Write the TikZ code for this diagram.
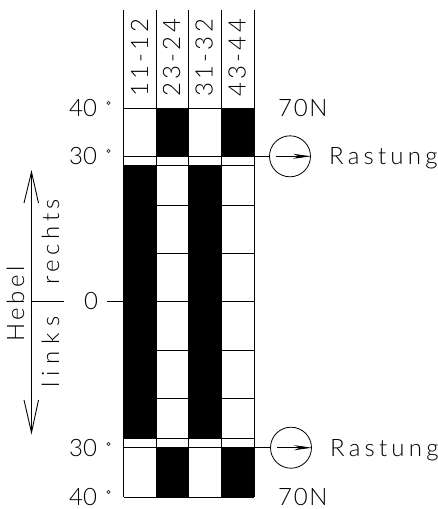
\documentclass[tikz,border=0pt]{standalone}
\usepackage{fontspec}
\setmainfont{Liberation Sans}
\newfontfamily\cadfont{Lato Light}
\newcommand\lsp[2]{{\addfontfeature{LetterSpace=#1}#2}}
\usetikzlibrary{arrows.meta}
\tikzset{
  grid/.style={line width=0.9pt,black},
  lbl/.style={font=\cadfont\fontsize{24}{24}\selectfont,inner sep=0pt,anchor=base west,text=black},
  vlbl/.style={lbl,rotate=90},
  detent/.style={circle,draw,line width=0.8pt,minimum size=41pt,inner sep=0pt},
  ptr/.style={line width=0.8pt,-{Stealth[length=18pt,width=5pt]}},
  barb/.style={line width=0.9pt}
}
\begin{document}
\begin{tikzpicture}[x=1pt,y=-1pt]
\useasboundingbox (0,0) rectangle (438,509);
% black bars
\fill[black] (156,108) rectangle (189,156.5);
\fill[black] (221,108) rectangle (254,156.5);
\fill[black] (123.5,165.5) rectangle (156.5,438.5);
\fill[black] (188,165.5) rectangle (221.5,438.5);
\fill[black] (156.5,447.5) rectangle (189,498);
\fill[black] (221.5,447.5) rectangle (254,498);
% verticals
\coordinate (t1) at (123.5,10); \coordinate (b1) at (123.5,497);
\coordinate (t2) at (156.3,10); \coordinate (b2) at (156.3,497);
\coordinate (t3) at (188.7,10); \coordinate (b3) at (188.7,497);
\coordinate (t4) at (221.3,10); \coordinate (b4) at (221.3,497);
\coordinate (t5) at (254,10);   \coordinate (b5) at (254,497);
\foreach \i in {1,...,5} \draw[grid] (t\i) -- (b\i);
% horizontals
\draw[grid] (123.5,108.3) -- (254,108.3);
\draw[grid] (123.5,165.7) -- (254,165.7);
\draw[grid] (123.5,438.5) -- (254,438.5);
\draw[grid] (123.5,497) -- (254,497);
\foreach \y in {205.3,253.7,350,398.5}{
  \draw[grid] (156.3,\y) -- (188.7,\y);
  \draw[grid] (221.3,\y) -- (254,\y);
}
% detents
\node[detent] (c1) at (290,156.3) {};
\node[detent] (c2) at (291,447.7) {};
\coordinate (l1) at (123.5,156.3);
\coordinate (l2) at (123.5,447.7);
\draw[grid] (l1) -- (c1.west);
\draw[grid] (l2) -- (c2.west);
\coordinate (a1s) at (276,156.3); \coordinate (a1e) at (311,156.3);
\coordinate (a2s) at (277,447.7); \coordinate (a2e) at (312,447.7);
\draw[ptr] (a1s) -- (a1e);
\draw[ptr] (a2s) -- (a2e);
% column labels
\node[vlbl] (h1) at (148,97) {\lsp{14}{11-12}};
\node[vlbl] (h2) at (180,97) {\lsp{14}{23-24}};
\node[vlbl] (h3) at (212.6,97) {\lsp{14}{31-32}};
\node[vlbl] (h4) at (245.6,97) {\lsp{14}{43-44}};
% angle labels
\node[lbl] (a40t) at (69,116) {40};
\node[lbl] (a30t) at (69,164) {30};
\node[lbl] (zero) at (84,309) {0};
\node[lbl] (a30b) at (69,456) {30};
\node[lbl] (a40b) at (69,505) {40};
\foreach \x/\y in {108.5/103,108.5/151,108.5/444,108.5/492}
  \draw[line width=0.7pt,black!80] (\x,\y) circle (1.6);
\coordinate (z0) at (107,301.5);
\coordinate (z1) at (254,301.5);
\draw[grid] (z0) -- (z1);
% side texts
\node[lbl] (f1) at (278,116) {\lsp{7}{70N}};
\node[lbl] (r1) at (329,164) {\lsp{17.5}{Rastung}};
\node[lbl] (r2) at (330,456) {\lsp{17.5}{Rastung}};
\node[lbl] (f2) at (278,505) {\lsp{7}{70N}};
% lever arrows
\coordinate (mid) at (31.5,301.5);
\coordinate (up) at (31.5,172);
\coordinate (dn) at (31.5,432.5);
\coordinate (tick) at (63.5,301.5);
\draw[grid] (up) -- (dn);
\draw[barb] (24,203) -- (up) -- (38.5,203);
\draw[barb] (24,400) -- (dn) -- (38.5,400);
\draw[grid] (mid) -- (tick);
\node[vlbl] (hebel) at (24,342) {\lsp{15}{Hebel}};
\node[vlbl] (rechts) at (59,285) {\lsp{19}{rechts}};
\node[vlbl] (links) at (59,388) {\lsp{27}{links}};
\end{tikzpicture}
\end{document}
